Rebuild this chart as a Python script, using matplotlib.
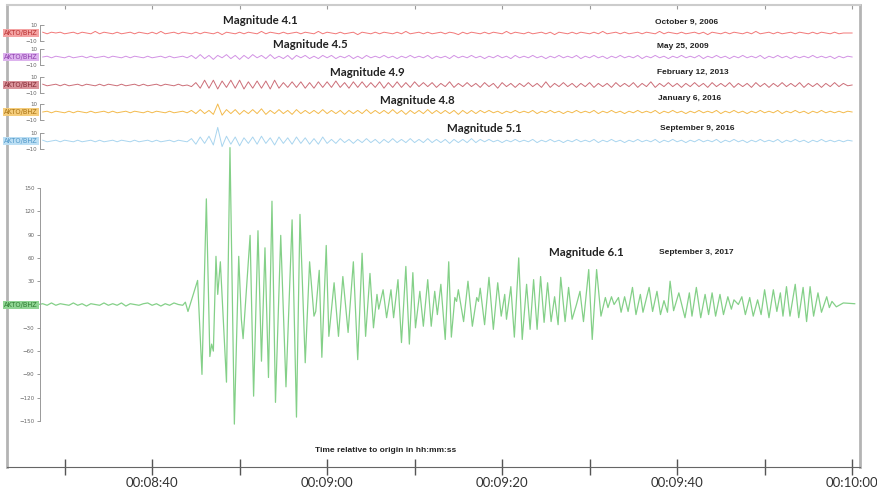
import numpy as np
import matplotlib
matplotlib.use('Agg')
import matplotlib.pyplot as plt

# ---- data ----
events = ['Magnitude 4.1', 'Magnitude 4.5', 'Magnitude 4.9', 'Magnitude 4.8', 'Magnitude 5.1', 'Magnitude 6.1']
dates = ['October 9, 2006', 'May 25, 2009', 'February 12, 2013', 'January 6, 2016',
         'September 9, 2016', 'September 3, 2017']
station = 'AKTO/BHZ'

# small traces: counts sampled every 0.5 s from 00:08:27.5
red_counts = [1, -1, 1, 0, 1, -1, 0, 1, -1, 1, 0, -1, 2, -1, 1, 0, -1, 1, -1, 0,
              1, -1, 1, 0, -1, 1, -1, 2, -1, 0, 1, -1, 1, 0, -1, 1, -1, 1, 0, -1,
              1, -2, 1, 0, -1, 1, -1, 1, 0, -1, 2, -1, 1, 0, -1, 1, -1, 0, 1, -1,
              1, 0, -1, 2, -1, 1, 0, -1, 1, -1, 0, 1, -2, 1, 0, -1, 1, -1, 1, 0,
              -1, 1, -1, 2, -1, 0, 1, -1, 1, -1, 0, 1, -1, 1, 0, -2, 1, -1, 1, 0,
              -1, 1, -1, 1, 0, -1, 2, -1, 1, 0, -1, 1, -1, 0, 1, -1, 1, -2, 1, 0,
              -1, 1, -1, 1, 0, -1, 1, -1, 2, -1, 0, 1, -1, 1, -1, 0, 1, -1, 1, 0,
              -1, 2, -1, 1, 0, -1, 1, -1, 0, 1, -1, 1, -2, 1, 0, -1, 1, -1, 1, 0,
              -1, 1, -1, 2, -1, 0, 1, -1, 1, -1, 0, 1, -1, 1, 0, -1, 1, -1, 1, 0,
              -1, 1, -1, 0, 0, 0]
purple_counts = [0, 1, -1, 1, 0, -1, 1, -1, 0, 1, -1, 1, -1, 0, 1, -1, 1, 0, -1, 1,
                 -1, 1, 0, -1, 1, -1, 0, 1, -1, 1, -1, 0, 1, -1,
                 2, -2, 3, -2, 2, -3, 2, -1, 3, -2, 2, -3, 2, -2, 3, -1, 2, -2, 3, -2,
                 1, -2, 2, -3, 2, -1, 2, -2, 1, -2, 2, -1, 2, -2, 1, -1, 2, -2, 1, -2,
                 2, -1,
                 1, -1, 2, -1, 1, -2, 1, -1, 2, -1, 1, -1, 2, -2, 1, -1, 1, -2, 2, -1,
                 1, -1, 2, -1, 1, -2, 1, -1, 2, -1, 1, -2, 2, -1, 1, -1, 2, -1, 1, -2,
                 1, -1, 2, -1, 1, -1, 2, -2, 1, -1, 2, -1, 1, -2, 1, -1, 2, -1, 1, -1,
                 2, -2, 1, -1, 2, -1, 1, -2, 1, -1, 2, -1, 1, -1, 2, -2, 1, -1, 2, -1,
                 1, -2, 1, -1, 2, -1, 1, -1, 2, -2, 1, -1, 2, -1, 1, -2, 1, -1, 1, -1,
                 2, -1, 1, -1, 1, -2, 1, -1, 1, 0]
brown_counts = [1, -1, 0, 1, -1, 1, -1, 0, 1, -1, 1, 0, -1, 1, -1, 1, 0, -1, 1, -1,
                0, 1, -1, 1, -1, 0, 1, -1, 1, 0, -1, 1, -1, 0,
                -2, 3, -4, 6, -4, 6, -5, 5, -3, 6, -4, 6, -5, 4, -4, 5, -4, 5, -5, 6, -4, 3,
                -3, 4, -3, 4, -4, 3, -4, 4, -3, 4, -3, 5, -3, 3, -4, 4, -3, 4, -3, 3,
                -3, 4, -4, 3, -3, 4, -3, 3, -3, 4,
                -2, 3, -2, 3, -3, 2, -2, 4, -3, 2, -2, 3, -2, 2, -3, 3, -2, 2, -4, 3,
                -2, 2, -3, 2, -2, 3, -2, 2, -3, 4, -3, 2, -2, 3, -2, 2, -3, 2, -2, 3,
                -3, 2, -2, 2, -3, 3, -2, 2, -2, 3, -3, 2, -2, 4, -3, 2, -2, 3, -2, 2,
                -3, 2, -2, 3, -2, 2, -3, 3, -2, 2, -2, 3, -3, 2, -2, 2, -3, 3, -2, 2,
                -3, 2, -2, 3, -2, 2, -2, 3, -3, 2, -2, 2, -3, 2, -2, 3, -2, 2, -1, 0]
orange_counts = [0, 1, -1, 1, 0, -1, 1, -1, 1, 0, -1, 1, -1, 0, 1, -1, 1, -1, 0, 1,
                 -1, 1, 0, -1, 1, -1, 1, 0, -1, 1, -1, 0, 1, -1,
                 2, -2, 3, -2, 2, -3, 10, -4, 3, -2, 3, -3, 2, -2, 3, -2, 4, -3, 2, -2,
                 3, -2, 2, -3, 3, -2, 2,
                 -2, 2, -2, 3, -2, 2, -2, 2, -3, 2, -2, 2, -2, 3, -2, 2, -2, 2, -2, 3,
                 -2, 2, -3, 2, -2, 2, -2, 3, -2, 2, -2, 2, -2, 2, -3, 2, -2, 2, -2, 2,
                 -1, 2, -1, 1, -2, 1, -1, 2, -1, 1, -1, 2, -2, 1, -1, 2, -1, 1, -2, 1,
                 -1, 2, -1, 1, -1, 2, -2, 1, -1, 2, -1, 1, -2, 1, -1, 2, -1, 1, -1, 2,
                 -2, 1, -1, 2, -1, 1, -2, 1, -1, 2, -1, 1, -1, 2, -2, 1, -1, 2, -1, 1,
                 -2, 1, -1, 2, -1, 1, -1, 2, -2, 1, -1, 2, -1, 1, -2, 1, -1, 2, -1, 1,
                 -1, 1, -1, 1, 0]
blue_counts = [1, -1, 0, 1, -1, 1, 0, -1, 1, -1, 0, 1, -1, 1, -1, 0, 1, -1, 1, 0,
               -1, 1, -1, 0, 1, -1, 1, -1, 0, 1, -1, 1, 0, -1,
               3, -4, 5, -3, 6, -5, 17, -7, 6, -4, 5, -6, 4, -3, 5, -4, 6, -3, 4, -5,
               5, -3, 4, -4, 5, -3, 4, -4, 3, -4, 5, -3,
               2, -3, 3, -2, 2, -3, 2, -2, 3, -2, 2, -3, 2, -2, 3, -2, 2, -2, 3, -2,
               2, -2, 3, -2, 2, -2, 2, -3, 2, -2, 2, -2, 3, -2, 2,
               -1, 2, -1, 1, -2, 1, -1, 2, -1, 1, -1, 2, -2, 1, -1, 2, -1, 1, -2, 1,
               -1, 2, -1, 1, -1, 2, -2, 1, -1, 2, -1, 1, -2, 1, -1, 2, -1, 1, -1, 2,
               -2, 1, -1, 2, -1, 1, -2, 1, -1, 2, -1, 1, -1, 2, -2, 1, -1, 2, -1, 1,
               -2, 1, -1, 2, -1, 1, -1, 2, -2, 1, -1, 2, -1, 1, -2, 1, -1, 2, -1, 1,
               -1, 1, -1, 1, 0]

# main trace (M6.1): pre-event noise every 0.5 s from 00:08:27, then peak/trough picks
green_noise = [0, 1, -1, 2, -1, 1, 0, -1, 2, -1, 1, -2, 1, 0, -1, 2, -1, 1, -1, 2,
               -2, 1, 0, -1, 1, 2, -1, 1, -2, 1, -1, 2, 0, -1]
green_t = [523.8, 524.1, 525.2, 525.7, 526.2, 526.6, 526.8, 527.0, 527.3, 527.5, 527.8,
           528.5, 528.9, 529.4, 529.9, 530.2, 530.4, 531.2, 531.6, 532.1, 532.5, 532.9,
           533.3, 533.7, 534.1, 534.7, 535.3, 536.0, 536.5, 536.9, 537.5, 538.0, 538.5,
           538.7, 539.1, 539.4, 539.9, 540.2, 540.8, 541.3, 541.8, 542.4, 543.0, 543.5,
           544.0, 544.4, 544.9, 545.3, 545.7, 545.9, 546.4, 546.8, 547.3, 547.6, 548.1,
           548.5, 549.0, 549.4, 549.8, 550.1, 550.6, 551.0, 551.5, 551.9, 552.3, 552.6,
           553.0, 553.5, 553.9, 554.2, 554.6, 554.8, 555.0, 555.6, 556.1, 556.6, 557.1,
           557.3, 557.5, 558.0, 558.5, 559.0, 559.5, 559.9, 560.3, 560.5, 561.0, 561.4,
           561.9, 562.3, 562.8, 563.2, 563.6, 564.0, 564.4, 564.8, 565.2, 565.6, 566.0,
           566.4, 566.7, 567.2, 567.6, 568.0, 568.5, 568.9, 569.3, 569.9, 570.3, 570.8,
           571.3, 571.8, 572.1, 572.5, 572.8, 573.3, 573.6, 574.0, 574.4, 574.9, 575.3,
           575.8, 576.1, 576.8, 577.2, 577.7, 578.1, 578.5, 578.9, 579.2, 579.6, 580.2,
           580.9, 581.4, 581.7, 582.2, 582.7, 583.2, 583.6, 584.0, 584.4, 584.9, 585.3,
           585.8, 586.2, 586.5, 587.0, 587.4, 587.8, 588.3, 588.7, 589.2, 589.6, 590.0,
           590.5, 591.0, 591.4, 591.8, 592.1, 592.5, 592.9, 593.5, 593.9, 594.4, 594.8,
           595.2, 595.6, 596.1, 596.5, 597.1, 597.4, 597.7, 598.2, 599.0, 600.3]
green_amp = [3, -9, 31, -90, 136, -67, -51, -60, 62, 13, 55,
             -100, 202, -154, 62, -19, -44, 89, -118, 95, -73, 73,
             -94, 133, -126, 89, -106, 109, -145, 116, -75, 55, -15,
             -9, 44, -68, 76, -41, 28, -41, 36, -36, 55, -71,
             66, -41, 40, -30, 13, -6, 19, -17, 19, -17, 32,
             -49, 49, -51, 41, -30, 17, -28, 32, -28, 17, -13,
             26, -45, 55, -42, 9, 4, 19, -22, 30, -28, 9,
             4, 21, -26, 35, -32, 28, -15, 13, -19, 23, -42,
             60, -45, 26, -32, 32, -32, 36, -23, 28, -22, 10,
             -26, 35, -22, 22, -19, 0, 17, -22, 45, -45, 45,
             -15, 9, -4, 10, 0, 9, -10, 10, -9, 22, -13,
             13, -10, 22, -9, 17, -13, 5, -10, 30, -8, 15,
             -17, 15, -15, 22, -17, 13, -13, 15, -15, 13, -13,
             10, -6, 6, 0, 10, -13, 9, -15, 6, -13, 19,
             -17, 19, -9, 15, -15, 23, -15, 26, -17, 22, -22,
             23, -15, 15, -10, 10, -4, 4, -3, 2, 1]

# ---- layout helpers (pixel geometry of the 878x492 canvas) ----
W, H = 878, 492


def box(x0, y0, x1, y1):
    return [x0 / W, 1 - y1 / H, (x1 - x0) / W, (y1 - y0) / H]


def t_at(px):
    # 10 s of record = 87.5 px, 00:08:30 sits at x = 64.6 px
    return 510 + (px - 64.6) / 8.75


def hms(t, pos=None):
    t = int(round(t))
    return '00:%02d:%02d' % (t // 60, t % 60)


fig = plt.figure(figsize=(W / 100, H / 100), dpi=100)

# outer frame + time axis
frame = fig.add_axes(box(7, 5, 860, 467))
frame.set_xlim(t_at(7), t_at(860))
frame.set_ylim(0, 1)
frame.set_yticks([])
frame.set_xticks([520, 540, 560, 580, 600])
frame.set_xticks([510, 530, 550, 570, 590], minor=True)
frame.xaxis.set_major_formatter(hms)
frame.tick_params(axis='x', which='both', direction='inout', length=12, width=1,
                  color='#555555', labelsize=9.5, labelcolor='#333333', pad=1)
for lab in frame.get_xticklabels():
    lab.set_family('Lato')
for side in ['left', 'right']:
    frame.spines[side].set_color('#b4b4b4')
    frame.spines[side].set_linewidth(2)
frame.spines['top'].set_color('#cccccc')
frame.spines['top'].set_linewidth(1.5)
frame.spines['bottom'].set_color('#666666')
top = frame.secondary_xaxis('top')
top.set_xticks(np.arange(510, 601, 10))
top.tick_params(direction='in', length=3, color='#999999', labelsize=0, labeltop=False)
top.spines['top'].set_visible(False)

small = [
    (33, red_counts, '#f27878', '#f4a3a3', '#b83030'),
    (57, purple_counts, '#d292e4', '#ddb3ee', '#8e3fae'),
    (85, brown_counts, '#cc6e78', '#d9939a', '#862a35'),
    (112, orange_counts, '#f3ba4c', '#f5cd7c', '#a87212'),
    (141, blue_counts, '#a9d5ef', '#bcdff4', '#4f97c8'),
]

for yc, counts, lc, fc, tc in small:
    ax = fig.add_axes(box(40, yc - 8, 860, yc + 8))
    ax.patch.set_visible(False)
    t = 507.5 + 0.5 * np.arange(len(counts))
    ax.plot(t, counts, color=lc, lw=0.7, clip_on=False)
    ax.set_xlim(t_at(40), t_at(860))
    ax.set_ylim(-10, 10)
    ax.set_xticks([])
    ax.set_yticks([-10, 10])
    ax.tick_params(axis='y', direction='in', length=3, width=0.7, color='#999999',
                   labelsize=4, labelcolor='#666666', pad=2)
    for side in ['top', 'right', 'bottom']:
        ax.spines[side].set_visible(False)
    ax.spines['left'].set_color('#999999')
    ax.spines['left'].set_linewidth(0.7)
    fig.text(38 / W, 1 - yc / H, station, ha='right', va='center', fontsize=4.8,
             color=tc, bbox=dict(boxstyle='square,pad=0.2', fc=fc, ec='none'))

# main trace
gax = fig.add_axes(box(40, 188, 860, 421))
gax.patch.set_visible(False)
noise_t = 507.0 + 0.5 * np.arange(len(green_noise))
gax.plot(np.concatenate([noise_t, green_t]), np.concatenate([green_noise, green_amp]),
         color='#84d088', lw=0.9, clip_on=False)
gax.set_xlim(t_at(40), t_at(860))
gax.set_ylim(-150, 150)
gax.set_xticks([])
gax.set_yticks([-150, -120, -90, -60, -30, 30, 60, 90, 120, 150])
gax.tick_params(axis='y', direction='out', length=2, width=0.7, color='#999999',
                labelsize=4, labelcolor='#666666', pad=2)
for side in ['top', 'right', 'bottom']:
    gax.spines[side].set_visible(False)
gax.spines['left'].set_color('#999999')
gax.spines['left'].set_linewidth(0.7)
fig.text(38 / W, 1 - 305 / H, station, ha='right', va='center', fontsize=4.8,
         color='#2e7d32', bbox=dict(boxstyle='square,pad=0.2', fc='#8fd493', ec='none'))

# annotations
mag_pos = [(260, 21), (310, 45), (367, 72), (417, 100), (484, 128), (586, 253)]
date_pos = [(655, 22), (657, 47), (657, 72), (658, 99), (660, 128), (659, 252)]
for text, (x, y) in zip(events, mag_pos):
    fig.text(x / W, 1 - y / H, text, ha='center', va='center', fontsize=8.3,
             fontweight='bold', family='Lato', color='#222222')
for text, (x, y) in zip(dates, date_pos):
    fig.text(x / W, 1 - y / H, text, ha='left', va='center', fontsize=6,
             fontweight='bold', family='Liberation Sans', color='#222222')

fig.text(386 / W, 1 - 451 / H, 'Time relative to origin in hh:mm:ss', ha='center',
         va='center', fontsize=6, fontweight='bold', family='Liberation Sans', color='#222222')

fig.savefig('out.png', dpi=100)
